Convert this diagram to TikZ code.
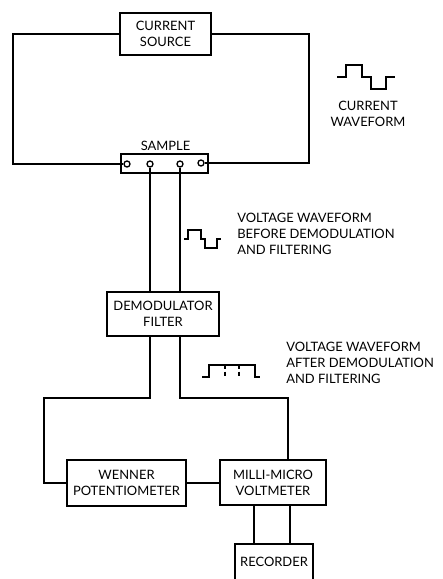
\documentclass[tikz,border=0pt]{standalone}
\usepackage{fontspec}
\setmainfont{Lato}
\newcommand{\labelfont}{\fontsize{9.7}{12}\selectfont}
\tikzset{
  blockbox/.style={draw, line width=1.25pt, align=center, font=\labelfont, inner sep=0pt, text depth=0pt},
  caption/.style={align=left, anchor=north west, inner sep=0pt, font=\labelfont},
  wire/.style={line width=1.25pt},
  wave/.style={line width=1pt},
  terminal/.style={draw, circle, fill=white, line width=1pt, minimum size=4.5pt, inner sep=0pt}
}
\begin{document}
\begin{tikzpicture}[x=0.75pt, y=-0.75pt]
  \useasboundingbox (0,0) rectangle (443,579);
  % Blocks
  \node[blockbox, minimum width=68.25pt, minimum height=31.5pt] (source) at (165.5,34) {CURRENT\\SOURCE};
  \node[blockbox, minimum width=65.25pt, minimum height=14.25pt] (sample) at (164.5,163.5) {};
  \node[blockbox, minimum width=84pt, minimum height=33pt] (demod) at (163,314) {DEMODULATOR\\FILTER};
  \node[blockbox, minimum width=89.25pt, minimum height=34.5pt] (wenner) at (126.5,483) {WENNER\\POTENTIOMETER};
  \node[blockbox, minimum width=79.5pt, minimum height=33.75pt] (milli) at (273,482.5) {MILLI-MICRO\\VOLTMETER};
  \node[blockbox, minimum width=58.5pt, minimum height=27pt] (recorder) at (274,562) {RECORDER};
  \node[inner sep=0pt, font=\labelfont] (samplelabel) at (165.5,146) {SAMPLE};

  % Sample terminals
  \node[terminal] (termA) at (127,164) {};
  \node[terminal] (termB) at (150,164) {};
  \node[terminal] (termC) at (180,164) {};
  \node[terminal] (termD) at (201,163) {};

  % Corners of the wiring
  \coordinate (srcleft) at (13,34);
  \coordinate (srcright) at (309,34);
  \coordinate (splitL) at (44,398);
  \coordinate (splitR) at (288,398);
  \coordinate (recL) at (254,544);
  \coordinate (recR) at (290,544);

  % Current loop
  \draw[wire] (source.west) -- (srcleft) |- (termA.west);
  \draw[wire] (source.east) -- (srcright) |- (termD.east);

  % Sample to demodulator
  \draw[wire] (termB.south) -- (termB.south |- demod.north);
  \draw[wire] (termC.south) -- (termC.south |- demod.north);

  % Demodulator to meters
  \draw[wire] (termB |- demod.south) |- (splitL) |- (wenner.west);
  \draw[wire] (termC |- demod.south) |- (splitR) -- (splitR |- milli.north);
  \draw[wire] (wenner.east) -- (milli.west |- wenner.east);
  \draw[wire] (recL |- milli.south) -- (recL);
  \draw[wire] (recR |- milli.south) -- (recR);

  % Waveforms
  \draw[wave] (337,77) -- (346,77) -- (346,65) -- (362,65) -- (362,77) -- (371,77) -- (371,89) -- (386,89) -- (386,77) -- (395,77);
  \draw[wave] (184,239) -- (188,239) -- (188,230) -- (201,230) -- (201,239) -- (205,239) -- (205,248) -- (217,248) -- (217,239) -- (221,239);
  \draw[wave] (202,377) -- (209,377) -- (209,365) -- (255,365) -- (255,377) -- (260,377);
  \draw[wave, densely dashed] (225,365) -- (225,378);
  \draw[wave, densely dashed] (239,365) -- (239,378);

  % Captions
  \node[inner sep=0pt, align=center, font=\labelfont] (currentlabel) at (368,114) {CURRENT\\WAVEFORM};
  \node[caption] (beforelabel) at (237,213) {VOLTAGE WAVEFORM\\BEFORE DEMODULATION\\AND FILTERING};
  \node[caption] (afterlabel) at (286,342) {VOLTAGE WAVEFORM\\AFTER DEMODULATION\\AND FILTERING};
\end{tikzpicture}
\end{document}
